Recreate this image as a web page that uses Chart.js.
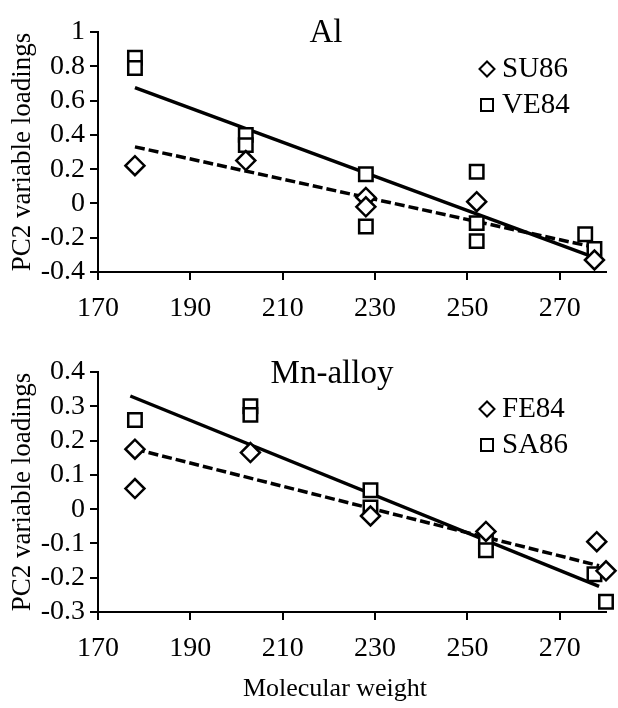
<!DOCTYPE html>
<html>
<head>
<meta charset="utf-8">
<script src="https://cdn.jsdelivr.net/npm/chart.js@4.4.1/dist/chart.umd.min.js"></script>
<style>
  body { margin: 0; background: #fff; }
  .panel { position: relative; width: 618px; }
</style>
</head>
<body>
<div class="panel" style="height:340px"><canvas id="alChart" width="618" height="340"></canvas></div>
<div class="panel" style="height:368px"><canvas id="mnChart" width="618" height="368"></canvas></div>
<script>
// === Values ===
const xTicks = [170, 190, 210, 230, 250, 270];
const alYTicks = [-0.4, -0.2, 0, 0.2, 0.4, 0.6, 0.8, 1];
const mnYTicks = [-0.3, -0.2, -0.1, 0, 0.1, 0.2, 0.3, 0.4];

// Al panel
const su86Mw = [178, 202, 228, 228, 252, 277.5];
const su86Load = [0.22, 0.25, 0.035, -0.02, 0.01, -0.33];
const ve84Mw = [178, 178, 202, 202, 228, 228, 252, 252, 252, 275.5, 277.5];
const ve84Load = [0.85, 0.79, 0.4, 0.34, 0.17, -0.135, 0.185, -0.115, -0.22, -0.18, -0.265];
const ve84TrendMw = [178, 277];
const ve84Trend = [0.675, -0.31];
const su86TrendMw = [178, 276.5];
const su86Trend = [0.33, -0.25];

// Mn-alloy panel
const fe84Mw = [178, 178, 203, 229, 254, 278, 280];
const fe84Load = [0.175, 0.06, 0.165, -0.02, -0.065, -0.095, -0.18];
const sa86Mw = [178, 203, 203, 229, 229, 254, 254, 277.5, 280];
const sa86Load = [0.26, 0.3, 0.275, 0.055, 0.005, -0.095, -0.12, -0.19, -0.27];
const sa86TrendMw = [177, 278.5];
const sa86Trend = [0.33, -0.225];
const fe84TrendMw = [178, 278.5];
const fe84Trend = [0.175, -0.165];

const serif = "'Liberation Serif', 'Times New Roman', serif";

// === helpers to build datasets ===
function toPoints(xs, ys) {
  return xs.map((x, i) => ({ x: x, y: ys[i] }));
}

function markerSet(label, xs, ys, style) {
  return {
    type: "scatter",
    label: label,
    data: toPoints(xs, ys),
    pointStyle: style,
    pointRadius: 9.5,
    pointHoverRadius: 9.5,
    pointBackgroundColor: "#fff",
    pointBorderColor: "#000",
    pointBorderWidth: 2.5,
    clip: false,
    order: 0,
  };
}

function trendSet(label, xs, ys, dashed) {
  return {
    type: "line",
    label: label,
    data: toPoints(xs, ys),
    borderColor: "#000",
    borderWidth: 3.5,
    borderDash: dashed ? [10, 4] : [],
    pointRadius: 0,
    fill: false,
    clip: false,
    order: 1,
  };
}

// === titles + in-plot legend (drawn on the chart canvas) ===
const panelText = {
  id: "panelText",
  afterDraw(chart, args, opts) {
    const ctx = chart.ctx;
    ctx.save();
    ctx.fillStyle = "#000";
    ctx.textBaseline = "middle";
    (opts.texts || []).forEach((t) => {
      ctx.font = `${t.size}px ${serif}`;
      ctx.textAlign = "center";
      ctx.fillText(t.text, t.x, t.y);
    });

    const lg = opts.legend;
    const sets = chart.data.datasets.filter((d) => d.type === "scatter");
    sets.forEach((d, i) => {
      const cx = lg.x;
      const cy = lg.y + i * lg.gap;
      ctx.beginPath();
      if (d.pointStyle === "rectRot") {
        ctx.moveTo(cx - lg.r, cy);
        ctx.lineTo(cx, cy - lg.r);
        ctx.lineTo(cx + lg.r, cy);
        ctx.lineTo(cx, cy + lg.r);
        ctx.closePath();
      } else {
        const h = lg.r * 0.8;
        ctx.rect(cx - h, cy - h, 2 * h, 2 * h);
      }
      ctx.fillStyle = "#fff";
      ctx.fill();
      ctx.lineWidth = 2;
      ctx.strokeStyle = "#000";
      ctx.stroke();
      ctx.fillStyle = "#000";
      ctx.textAlign = "left";
      ctx.font = `${lg.size}px ${serif}`;
      ctx.fillText(d.label, cx + lg.textGap, cy);
    });
    ctx.restore();
  },
};

// === one panel ===
function makePanel(id, cfg) {
  const ctx = document.getElementById(id).getContext("2d");
  return new Chart(ctx, {
    type: "scatter",
    data: { datasets: cfg.datasets },
    options: {
      responsive: false,
      animation: false,
      events: [],
      layout: { padding: { top: 32, right: 6, left: 0, bottom: 0 } },
      scales: {
        x: {
          type: "linear",
          min: 170,
          max: 280,
          afterBuildTicks: (s) => {
            s.ticks = xTicks.map((v) => ({ value: v }));
          },
          afterFit: (s) => {
            s.height = cfg.xHeight;
          },
          border: { display: true, color: "#000", width: 2 },
          grid: { drawOnChartArea: false, drawTicks: true, tickLength: 8, color: "#000", lineWidth: 2 },
          ticks: {
            color: "#000",
            font: { family: serif, size: 28 },
            padding: 12,
            maxRotation: 0,
            autoSkip: false,
          },
        },
        y: {
          type: "linear",
          min: cfg.yTicks[0],
          max: cfg.yTicks[cfg.yTicks.length - 1],
          afterBuildTicks: (s) => {
            s.ticks = cfg.yTicks.map((v) => ({ value: v }));
          },
          afterFit: (s) => {
            s.width = 98;
          },
          border: { display: true, color: "#000", width: 2 },
          grid: { drawOnChartArea: false, drawTicks: true, tickLength: 8, color: "#000", lineWidth: 2 },
          ticks: {
            color: "#000",
            font: { family: serif, size: 28 },
            padding: 5,
            autoSkip: false,
            callback: (v) => String(v),
          },
          title: {
            display: true,
            text: "PC2 variable loadings",
            color: "#000",
            font: { family: serif, size: 27 },
            padding: { top: 7, bottom: 0 },
          },
        },
      },
      plugins: {
        legend: { display: false },
        tooltip: { enabled: false },
        panelText: {
          texts: cfg.texts,
          legend: { x: 487, y: 69, gap: 36, r: 7.5, textGap: 15, size: 29 },
        },
      },
    },
    plugins: [panelText],
  });
}

makePanel("alChart", {
  yTicks: alYTicks,
  xHeight: 68,
  texts: [{ text: "Al", x: 326, y: 33, size: 33 }],
  datasets: [
    markerSet("SU86", su86Mw, su86Load, "rectRot"),
    markerSet("VE84", ve84Mw, ve84Load, "rect"),
    trendSet("VE84 fit", ve84TrendMw, ve84Trend, false),
    trendSet("SU86 fit", su86TrendMw, su86Trend, true),
  ],
});

makePanel("mnChart", {
  yTicks: mnYTicks,
  xHeight: 96,
  texts: [
    { text: "Mn-alloy", x: 332, y: 34, size: 33 },
    { text: "Molecular weight", x: 335, y: 349, size: 26 },
  ],
  datasets: [
    markerSet("FE84", fe84Mw, fe84Load, "rectRot"),
    markerSet("SA86", sa86Mw, sa86Load, "rect"),
    trendSet("SA86 fit", sa86TrendMw, sa86Trend, false),
    trendSet("FE84 fit", fe84TrendMw, fe84Trend, true),
  ],
});
</script>
</body>
</html>
